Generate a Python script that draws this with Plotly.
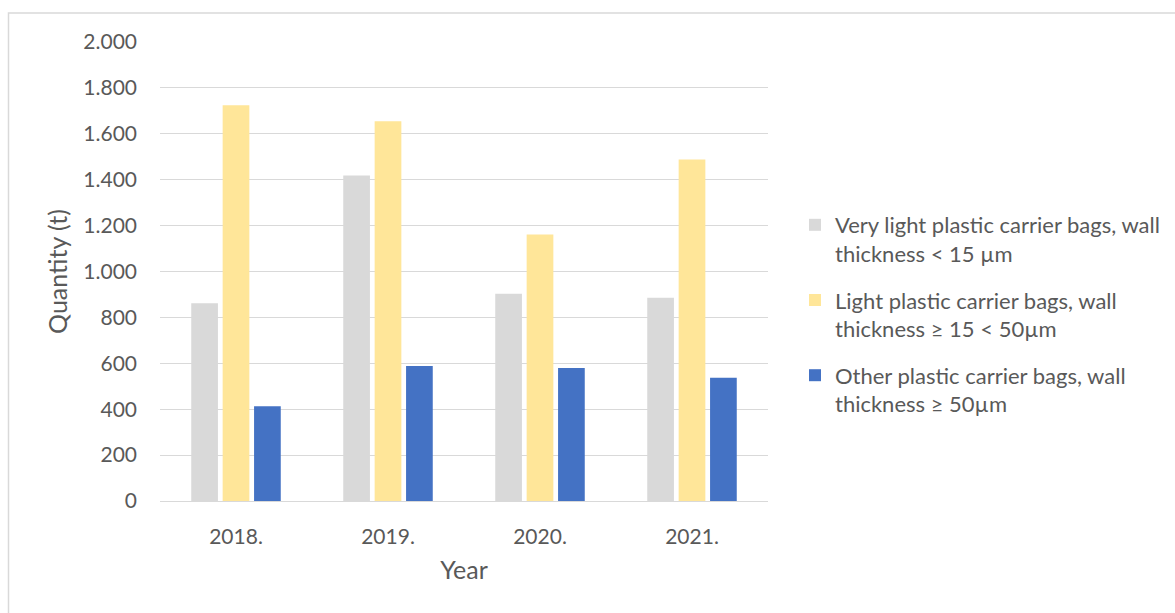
import plotly.graph_objects as go

# Plastic carrier bags placed on the market, by wall thickness (tonnes)
years = ["2018.", "2019.", "2020.", "2021."]
very_light = [862, 1418, 903, 886]
light = [1724, 1655, 1161, 1488]
other = [413, 588, 579, 537]

series_names = [
    "Very light plastic carrier bags, wall<br>thickness < 15 µm",
    "Light plastic carrier bags, wall<br>thickness ≥ 15 < 50µm",
    "Other plastic carrier bags, wall<br>thickness ≥ 50µm",
]
series_values = [very_light, light, other]
series_colors = ["#D9D9D9", "#FFE699", "#4472C4"]

y_ticks = [0, 200, 400, 600, 800, 1000, 1200, 1400, 1600, 1800, 2000]

FONT = "Lato"
TEXT = "#595959"
GRID = "#D9D9D9"

fig = go.Figure()
for i, (name, vals, col) in enumerate(zip(series_names, series_values, series_colors)):
    fig.add_trace(go.Bar(
        x=years, y=vals, name=name,
        marker=dict(color=col, line=dict(width=0)),
        legendgroup=f"g{i}",
    ))

W, H = 1175, 613
L, R, T, B = 160, 407, 42, 112

fig.update_layout(
    width=W, height=H,
    margin=dict(l=L, r=R, t=T, b=B),
    paper_bgcolor="white", plot_bgcolor="white",
    barmode="group", bargap=0.38, bargroupgap=0.15,
    separators=",.",
    font=dict(family=FONT, color=TEXT, size=21),
    legend=dict(
        xref="container", yref="container",
        x=795 / W, y=1 - 204 / H, xanchor="left", yanchor="top",
        font=dict(family=FONT, size=22, color=TEXT),
        tracegroupgap=15, valign="top",
        bgcolor="rgba(0,0,0,0)",
    ),
    showlegend=True,
)

fig.update_yaxes(
    range=[0, 2000], tickvals=y_ticks, tickformat=",d",
    showgrid=True, gridcolor=GRID, gridwidth=1,
    zeroline=False, showline=False,
    ticks="", ticklabelstandoff=22,
    tickfont=dict(family=FONT, size=21, color=TEXT),
    title=dict(text="Quantity (t)", font=dict(family=FONT, size=25, color=TEXT), standoff=8),
)
fig.update_xaxes(
    showline=True, linecolor=GRID, linewidth=1,
    showgrid=False, ticks="", ticklabelstandoff=17,
    tickfont=dict(family=FONT, size=21, color=TEXT),
    title=dict(text="Year", font=dict(family=FONT, size=25, color=TEXT), standoff=14),
)

# outer chart frame
fig.add_shape(
    type="rect", xref="paper", yref="paper",
    x0=(8.5 - L) / (W - L - R), x1=(1185 - L) / (W - L - R),
    y0=(H - B - 630) / (H - T - B), y1=(H - B - 13) / (H - T - B),
    line=dict(color=GRID, width=1.5), fillcolor="rgba(0,0,0,0)", layer="below",
)

fig.write_html("out.html")
